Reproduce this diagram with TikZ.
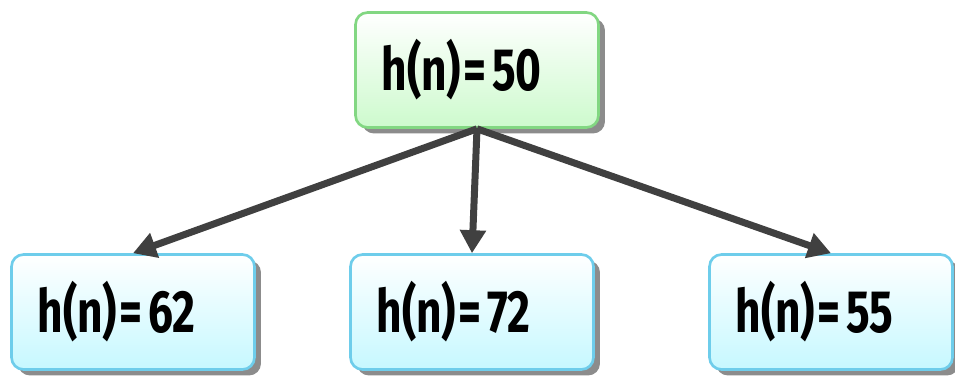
\documentclass[tikz,border=0pt]{standalone}
\usepackage{fontspec}
\newfontfamily\boxfont{Fira Sans}[FakeStretch=0.74]
\usetikzlibrary{arrows.meta,shadows}
\definecolor{greenedge}{RGB}{130,215,130}
\definecolor{greenfill}{RGB}{205,250,205}
\definecolor{blueedge}{RGB}{110,205,235}
\definecolor{bluefill}{RGB}{198,248,255}
\definecolor{arrowgray}{RGB}{64,64,64}
\newcommand{\hval}[1]{h(n)\kern1.5pt=\kern3pt#1}

\begin{document}
\begin{tikzpicture}[x=0.02cm,y=-0.02cm,
  hbox/.style={rounded corners=0.24cm, line width=1.5pt,
    minimum height=2.3cm, text width=3.82cm, inner xsep=0.52cm, align=left,
    font=\boxfont\bfseries\fontsize{34}{34}\selectfont,
    drop shadow={shadow xshift=0.13cm, shadow yshift=-0.12cm, fill=black!90}},
  rootbox/.style={hbox, draw=greenedge, top color=white, bottom color=greenfill},
  leafbox/.style={hbox, draw=blueedge, top color=white, bottom color=bluefill},
  arr/.style={draw=arrowgray, line width=0.14cm, -{Triangle[length=0.46cm,width=0.5cm]}}]
  \useasboundingbox (0,0) rectangle (955,375);

  % root and its three children
  \node[rootbox] (root) at (477,70) {\hval{50}};
  \node[leafbox] (left) at (133,312) {\hval{62}};
  \node[leafbox] (mid) at (472,312) {\hval{72}};
  \node[leafbox] (right) at (831,312) {\hval{55}};

  \foreach \n in {left,mid,right}
    \draw[arr] (root.south) -- (\n.north);
\end{tikzpicture}
\end{document}
